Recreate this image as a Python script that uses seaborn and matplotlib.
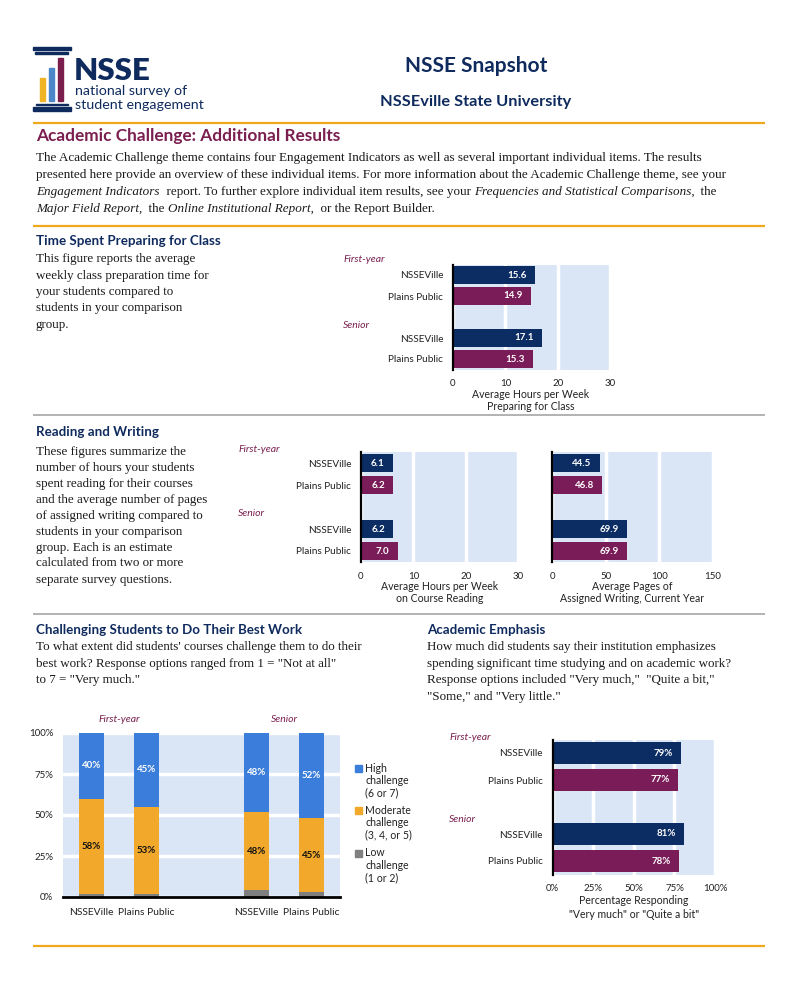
"""NSSE Snapshot page: Academic Challenge additional results."""
import matplotlib
matplotlib.use("Agg")
import numpy as np
import pandas as pd
import matplotlib.pyplot as plt
from matplotlib.patches import Rectangle
import seaborn as sns

# ---- data ----
groups = ["First-year", "First-year", "Senior", "Senior"]
institutions = ["NSSEVille", "Plains Public", "NSSEVille", "Plains Public"]
prep_hours = [15.6, 14.9, 17.1, 15.3]
reading_hours = [6.1, 6.2, 6.2, 7.0]
writing_pages = [44.5, 46.8, 69.9, 69.9]
emphasis_pct = [79, 77, 81, 78]
low_pct = [2, 2, 4, 3]
moderate_pct = [58, 53, 48, 45]
high_pct = [40, 45, 48, 52]
challenge_levels = ["High\nchallenge\n(6 or 7)",
                    "Moderate\nchallenge\n(3, 4, or 5)",
                    "Low\nchallenge\n(1 or 2)"]
hours_ticks = [0, 10, 20, 30]
pages_ticks = [0, 50, 100, 150]
pct_ticks = [0, 25, 50, 75, 100]

# ---- styles ----
NAVY = "#0C2D63"
MAROON = "#7A1C58"
HEAD_NAVY = "#0F2B5E"
TITLE_MAROON = "#7A1F4F"
BG = "#DAE5F5"
GOLD = "#EFA71C"
GRAY_LINE = "#A6A6A6"
HIGH = "#3B7DDA"
MOD = "#F2A82A"
LOW = "#7F7F7F"
INST_COLORS = {"NSSEVille": NAVY, "Plains Public": MAROON}
SANS = ["Lato", "DejaVu Sans"]
SERIF = ["Liberation Serif", "DejaVu Serif"]
BODY = 9.4

sns.set_style("white")
plt.rcParams["font.family"] = SANS

W, H = 800, 994
fig = plt.figure(figsize=(W / 100, H / 100), dpi=100)
fig.patch.set_facecolor("white")

ov = fig.add_axes([0, 0, 1, 1])
ov.set_xlim(0, W)
ov.set_ylim(H, 0)
ov.axis("off")
renderer = fig.canvas.get_renderer()


def px_axes(left, top, width, height):
    return fig.add_axes([left / W, 1 - (top + height) / H, width / W, height / H])


def seg_width(txt, **kw):
    t1 = ov.text(0, 0, txt + "|", **kw)
    t2 = ov.text(0, 0, "|", **kw)
    w = t1.get_window_extent(renderer).width - t2.get_window_extent(renderer).width
    t1.remove()
    t2.remove()
    return w


def rich_line(x, y, parts, size=BODY):
    for txt, style in parts:
        kw = dict(fontsize=size, family=SERIF, style=style, color="#1a1a1a")
        ov.text(x, y, txt, va="center", ha="left", **kw)
        x += seg_width(txt, **kw)


def paragraph(x, y0, lines, step, size=BODY):
    for k, ln in enumerate(lines):
        rich_line(x, y0 + k * step, [(ln, "normal")], size=size)


def heading(x, y, txt):
    ov.text(x, y, txt, fontsize=9.6, fontweight="bold", color=HEAD_NAVY, va="center")


def hline(y, color, lw, x0=33, x1=765):
    ov.plot([x0, x1], [y, y], color=color, lw=lw, solid_capstyle="butt")


slots = [f"{g} {i}" for g, i in zip(groups, institutions)]
order = slots[:2] + ["gap"] + slots[2:]
positions = [0, 1, 3, 4]


def hbar_panel(rect, values, ticks, fmt, show_names=True, tick_fmt="{}"):
    ax = px_axes(*rect)
    df = pd.DataFrame({"slot": slots, "value": values, "inst": institutions})
    sns.barplot(data=df, x="value", y="slot", hue="inst", order=order,
                hue_order=["NSSEVille", "Plains Public"], palette=INST_COLORS,
                dodge=False, width=0.82, saturation=1, legend=False, ax=ax,
                edgecolor="none", linewidth=0)
    ax.set_facecolor(BG)
    ax.set_xlim(ticks[0], ticks[-1])
    ax.set_ylim(4.5, -0.5)
    ax.set_xticks(ticks)
    ax.set_xticklabels([tick_fmt.format(t) for t in ticks], fontsize=7, color="#222222")
    ax.set_yticks(positions)
    ax.set_yticklabels(institutions if show_names else [""] * 4, fontsize=7.2, color="#222222")
    ax.tick_params(length=0, axis="x", pad=7)
    ax.tick_params(length=0, axis="y", pad=7)
    ax.grid(axis="x", color="white", lw=2.5)
    ax.set_axisbelow(True)
    for s in ["top", "right", "bottom"]:
        ax.spines[s].set_visible(False)
    ax.spines["left"].set_color("black")
    ax.spines["left"].set_linewidth(1.6)
    ax.set_xlabel("")
    ax.set_ylabel("")
    for pos, v in zip(positions, values):
        ax.annotate(fmt.format(v), (v, pos), xytext=(-6, 0), textcoords="offset points",
                    ha="right", va="center", color="white", fontweight="bold", fontsize=7)
    return ax


def group_labels(x, ys):
    for g, y in zip(["First-year", "Senior"], ys):
        ov.text(x, y, g, fontsize=7.5, style="italic", color=TITLE_MAROON, va="center")


def xlabel(xc, ys, lines):
    for y, t in zip(ys, lines):
        ov.text(xc, y, t, fontsize=7.6, ha="center", va="center", color="#222222")


# ---- header / logo ----
ov.add_patch(Rectangle((33, 47), 38, 3.2, color=HEAD_NAVY))
ov.add_patch(Rectangle((35, 52.3), 33, 1.6, color=HEAD_NAVY))
ov.add_patch(Rectangle((36, 103.5), 32, 1.6, color=HEAD_NAVY))
ov.add_patch(Rectangle((33, 107.3), 38, 3.8, color=HEAD_NAVY))
ov.add_patch(Rectangle((40, 78), 5.3, 23, color="#F0B323"))
ov.add_patch(Rectangle((49, 68), 5.3, 33, color="#4C87C9"))
ov.add_patch(Rectangle((58, 58), 5.3, 43, color="#7B1E4E"))
ov.text(74, 70.5, "NSSE", fontsize=22.5, fontweight="heavy", color=HEAD_NAVY, va="center")
ov.text(75, 91, "national survey of", fontsize=10.3, color=HEAD_NAVY, va="center")
ov.text(75, 105, "student engagement", fontsize=10.3, color=HEAD_NAVY, va="center")

ov.text(476, 66, "NSSE Snapshot", fontsize=15, fontweight="bold", color=HEAD_NAVY,
        ha="center", va="center")
ov.text(476, 102, "NSSEville State University", fontsize=11.8, fontweight="bold",
        color=HEAD_NAVY, ha="center", va="center")
hline(123, GOLD, 1.6)

ov.text(36, 136, "Academic Challenge: Additional Results", fontsize=12.4,
        fontweight="bold", color=TITLE_MAROON, va="center")
MAIN = 9.45
rich_line(36, 158, [("The Academic Challenge theme contains four Engagement Indicators as well as "
                     "several important individual items. The results", "normal")], MAIN)
rich_line(36, 175, [("presented here provide an overview of these individual items. For more "
                     "information about the Academic Challenge theme, see your", "normal")], MAIN)
rich_line(36, 192, [("Engagement Indicators", "italic"),
                    ("  report. To further explore individual item results, see your ", "normal"),
                    ("Frequencies and Statistical Comparisons,", "italic"), ("  the", "normal")],
          MAIN)
rich_line(36, 209, [("Major Field Report,", "italic"), ("  the ", "normal"),
                    ("Online Institutional Report,", "italic"),
                    ("  or the Report Builder.", "normal")], MAIN)
hline(226, GOLD, 1.6)

# ---- time spent preparing ----
heading(36, 241, "Time Spent Preparing for Class")
paragraph(36, 259, ["This figure reports the average", "weekly class preparation time for",
                    "your students compared to", "students in your comparison", "group."], 16.5)
hbar_panel((453, 264.5, 157, 105), prep_hours, hours_ticks, "{:.1f}")
group_labels(343, [260, 326])
xlabel(531, [394, 407], ["Average Hours per Week", "Preparing for Class"])
hline(415, GRAY_LINE, 1.2)

# ---- reading and writing ----
heading(36, 432, "Reading and Writing")
paragraph(36, 451.5, ["These figures summarize the", "number of hours your students",
                      "spent reading for their courses", "and the average number of pages",
                      "of assigned writing compared to", "students in your comparison",
                      "group. Each is an estimate", "calculated from two or more",
                      "separate survey questions."], 16)
hbar_panel((361, 452, 157, 110), reading_hours, hours_ticks, "{:.1f}")
hbar_panel((552, 452, 161, 110), writing_pages, pages_ticks, "{:.1f}", show_names=False)
group_labels(238, [450, 514])
xlabel(440, [587, 598], ["Average Hours per Week", "on Course Reading"])
xlabel(632, [587, 598], ["Average Pages of", "Assigned Writing, Current Year"])
hline(614, GRAY_LINE, 1.2)

# ---- challenging students ----
heading(36, 630, "Challenging Students to Do Their Best Work")
paragraph(36, 647, ["To what extent did students' courses challenge them to do their",
                    "best work? Response options ranged from 1 = \"Not at all\"",
                    "to 7 = \"Very much.\""], 16.5)

ax = px_axes(63, 733, 277, 164)
cum_mod = np.add(low_pct, moderate_pct)
cum_high = cum_mod + np.array(high_pct)
for vals, col in [(cum_high, HIGH), (cum_mod, MOD), (low_pct, LOW)]:
    df = pd.DataFrame({"slot": slots, "value": vals})
    sns.barplot(data=df, x="slot", y="value", order=order, color=col, width=0.47,
                saturation=1, ax=ax, edgecolor="none", linewidth=0)
ax.set_facecolor(BG)
ax.set_ylim(0, 100)
ax.set_xlim(-0.52, 4.52)
ax.set_yticks(pct_ticks)
ax.set_yticklabels([f"{t}%" for t in pct_ticks], fontsize=7, color="#222222")
ax.set_xticks(positions)
ax.set_xticklabels(institutions, fontsize=7.4, color="#222222")
ax.tick_params(length=0, axis="x", pad=8)
ax.tick_params(length=0, axis="y", pad=7)
ax.grid(axis="y", color="white", lw=2.5)
ax.set_axisbelow(True)
for s in ["top", "right", "left"]:
    ax.spines[s].set_visible(False)
ax.spines["bottom"].set_color("black")
ax.spines["bottom"].set_linewidth(2)
ax.set_xlabel("")
ax.set_ylabel("")
for pos, lo, cm, ch, m, h in zip(positions, low_pct, cum_mod, cum_high, moderate_pct, high_pct):
    ax.text(pos, (cm + ch) / 2, f"{h}%", ha="center", va="center", color="white",
            fontsize=7, fontweight="bold")
    ax.text(pos, (lo + cm) / 2, f"{m}%", ha="center", va="center", color="#111111",
            fontsize=7, fontweight="bold")
for g, xc in zip(["First-year", "Senior"], [0.5, 3.5]):
    ax.text(xc, 1.08, g, transform=ax.get_xaxis_transform(), ha="center", va="center",
            fontsize=7.5, style="italic", color=TITLE_MAROON)
for lab, col, y in zip(challenge_levels, [HIGH, MOD, LOW], [768, 810, 853]):
    ov.add_patch(Rectangle((355, y - 3.5), 7, 7, color=col))
    for k, part in enumerate(lab.split("\n")):
        ov.text(365, y + k * 12.3, part, fontsize=7.6, color="#222222", va="center")

# ---- academic emphasis ----
heading(427, 630, "Academic Emphasis")
paragraph(427, 647, ["How much did students say their institution emphasizes",
                     "spending significant time studying and on academic work?",
                     "Response options included \"Very much,\"  \"Quite a bit,\"",
                     "\"Some,\" and \"Very little.\""], 16.7)
hbar_panel((552.7, 739.5, 162.3, 135), emphasis_pct, pct_ticks, "{}%", tick_fmt="{}%")
group_labels(449, [737, 820])
xlabel(634, [900, 914], ["Percentage Responding", "\"Very much\" or \"Quite a bit\""])

hline(946, GOLD, 1.6)

fig.savefig("out.png", dpi=100, facecolor="white")
